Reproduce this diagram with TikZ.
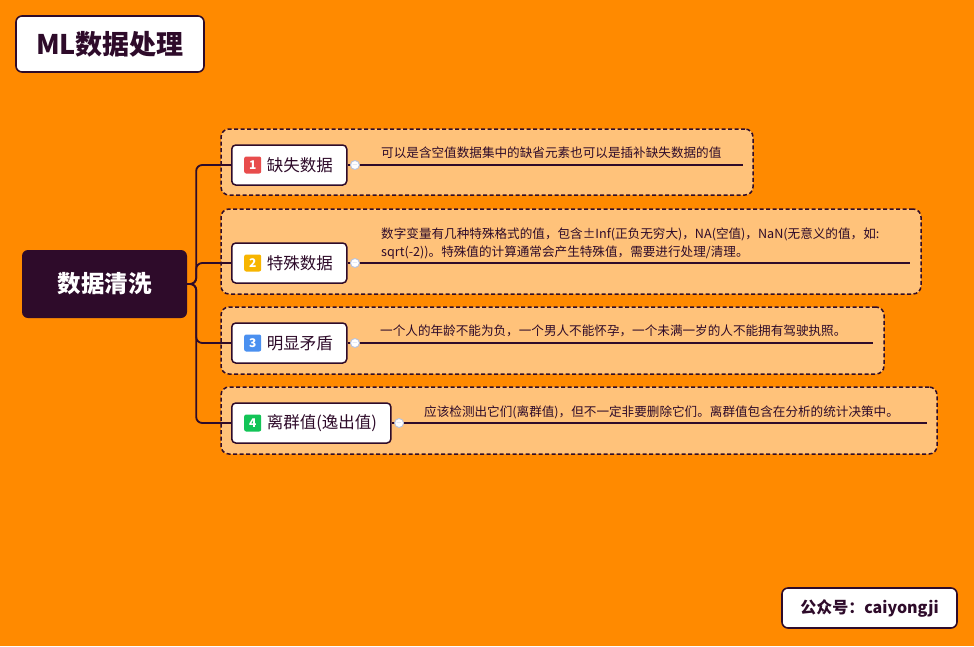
\documentclass[tikz,border=0pt]{standalone}
\usepackage{fontspec}
\setmainfont{Noto Sans CJK SC}
\usepackage{xcolor}
\usetikzlibrary{positioning}

\definecolor{bgorange}{HTML}{FF8A00}
\definecolor{ink}{HTML}{2E0B2A}
\definecolor{groupfill}{HTML}{FFC27A}
\definecolor{markgray}{HTML}{B8C3DD}
\definecolor{badgered}{HTML}{E84C4C}
\definecolor{badgeyellow}{HTML}{F7B500}
\definecolor{badgeblue}{HTML}{4A90F0}
\definecolor{badgegreen}{HTML}{12C457}

\begin{document}
\begin{tikzpicture}[
		x=1pt, y=-1pt,
		titlebox/.style={
			draw=ink, fill=white, line width=1.6pt,
			rounded corners=6pt,
			minimum width=188pt, minimum height=56pt,
			font=\fontsize{27}{27}\selectfont\bfseries, text=ink
		},
		rootbox/.style={
			fill=ink, rounded corners=6pt,
			minimum width=165pt, minimum height=68pt,
			font=\fontsize{23.5}{23.5}\selectfont\bfseries, text=white
		},
		groupbox/.style={
			draw=ink, fill=groupfill, dashed, line width=1.5pt,
			dash pattern=on 4pt off 2.5pt,
			rounded corners=8pt
		},
		branch/.style={
			draw=ink, fill=white, line width=1.5pt,
			rounded corners=4pt, anchor=west,
			minimum height=40pt, inner xsep=14pt,
			font=\fontsize{16.5}{16.5}\selectfont, text=ink
		},
		badge/.style={
			rounded corners=2pt, inner sep=0pt,
			minimum width=17pt, minimum height=17pt,
			font=\fontsize{12}{12}\selectfont\bfseries, text=white
		},
		wire/.style={draw=ink, line width=1.8pt, rounded corners=6pt},
		marker/.style={
			circle, draw=markgray, fill=white, line width=0.9pt,
			inner sep=0pt, minimum size=9pt,
			font=\fontsize{7}{7}\selectfont, text=markgray
		},
		desc/.style={
			inner sep=0pt, anchor=base west, align=left,
			font=\fontsize{12.6}{18}\selectfont, text=ink
		}
	]
	\useasboundingbox (0,0) rectangle (974,646);
	\fill[bgorange] (0,0) rectangle (974,646);

	% headings
	\node[titlebox] (title) at (110,44) {ML数据处理};
	\node[titlebox, minimum width=175pt, minimum height=40pt,
		font=\fontsize{16}{16}\selectfont\bfseries] (account) at (869.5,608) {公众号：caiyongji};
	\node[rootbox] (root) at (104.5,284) {数据清洗};

	% dashed groups
	\node[groupbox, minimum width=532pt, minimum height=66pt] (g1) at (487,162) {};
	\node[groupbox, minimum width=700pt, minimum height=85pt] (g2) at (571,251.5) {};
	\node[groupbox, minimum width=663pt, minimum height=67pt] (g3) at (552.5,340.5) {};
	\node[groupbox, minimum width=716pt, minimum height=67pt] (g4) at (579,420.5) {};

	% branches
	\node[branch] (missing) at (231,165) {\hspace{21pt}缺失数据};
	\node[branch] (special) at (231,263) {\hspace{21pt}特殊数据};
	\node[branch] (conflict) at (231,343) {\hspace{21pt}明显矛盾};
	\node[branch] (outlier) at (231,423) {\hspace{21pt}离群值(逸出值)};

	\node[badge, fill=badgered, right=13pt of missing.west] (n1) {1};
	\node[badge, fill=badgeyellow, right=13pt of special.west] (n2) {2};
	\node[badge, fill=badgeblue, right=13pt of conflict.west] (n3) {3};
	\node[badge, fill=badgegreen, right=13pt of outlier.west] (n4) {4};

	% connectors
	\draw[wire] (root.east) -- ++(9,0) |- (missing.west);
	\draw[wire] (root.east) -- ++(9,0) |- (special.west);
	\draw[wire] (root.east) -- ++(9,0) |- (conflict.west);
	\draw[wire] (root.east) -- ++(9,0) |- (outlier.west);

	% notes
	\coordinate (e1) at (743,165);
	\coordinate (e2) at (910,263);
	\coordinate (e3) at (873,343);
	\coordinate (e4) at (927,423);
	\draw[wire] (missing.east) -- (e1);
	\draw[wire] (special.east) -- (e2);
	\draw[wire] (conflict.east) -- (e3);
	\draw[wire] (outlier.east) -- (e4);

	\node[marker, right=2.5pt of missing.east] (m1) {$-$};
	\node[marker, right=2.5pt of special.east] (m2) {$-$};
	\node[marker, right=2.5pt of conflict.east] (m3) {$-$};
	\node[marker, right=2.5pt of outlier.east] (m4) {$-$};

	\node[desc] (t1) at (381,157) {可以是含空值数据集中的缺省元素也可以是插补缺失数据的值};
	\node[desc] (t2) at (381,256) {数字变量有几种特殊格式的值，包含±Inf(正负无穷大)，NA(空值)，NaN(无意义的值，如:\\sqrt(-2))。特殊值的计算通常会产生特殊值，需要进行处理/清理。};
	\node[desc] (t3) at (380,335) {一个人的年龄不能为负，一个男人不能怀孕，一个未满一岁的人不能拥有驾驶执照。};
	\node[desc] (t4) at (424,416) {应该检测出它们(离群值)，但不一定非要删除它们。离群值包含在分析的统计决策中。};
\end{tikzpicture}
\end{document}
